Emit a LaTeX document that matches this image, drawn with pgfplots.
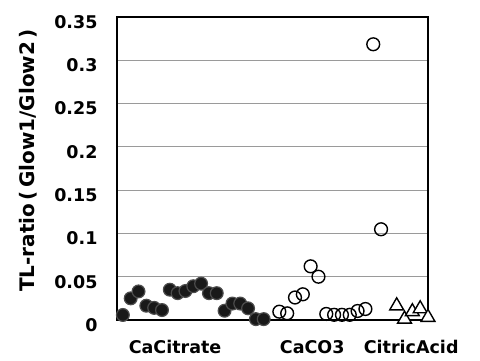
\documentclass[border=0pt]{standalone}
\usepackage{fontspec}
\setmainfont{DejaVu Sans}
\usepackage{pgfplots}
\pgfplotsset{compat=1.18}
\definecolor{gridgray}{HTML}{9A9A9A}
\begin{document}
\begin{tikzpicture}
\begin{axis}[
  at={(0,0)}, anchor=south west,
  scale only axis,
  width=311bp, height=303bp,
  xmin=0.25, xmax=40,
  ymin=0, ymax=0.35,
  ytick={0,0.05,0.1,0.15,0.2,0.25,0.3,0.35},
  yticklabels={0,0.05,0.1,0.15,0.2,0.25,0.3,0.35},
  xtick={7.67,25.2,37.85},
  xticklabels={CaCitrate,CaCO3,CitricAcid},
  major tick length=0pt,
  ymajorgrids,
  grid style={gridgray, line width=1.2bp},
  axis line style={black, line width=2.2bp},
  tick label style={font=\fontsize{17.5bp}{20bp}\selectfont\bfseries},
  yticklabel style={xshift=-16bp, yshift=-5bp},
  xticklabel style={yshift=-17bp},
  ylabel={TL-ratio\,(\,Glow1/Glow2\,)},
  ylabel style={font=\fontsize{20bp}{22bp}\selectfont\bfseries, yshift=10bp, xshift=8bp},
  clip=false,
]
\addplot[only marks, mark=*, mark size=6.4bp,
  mark options={fill=black!90, draw=black!70, line width=1.2bp}]
  coordinates {
  (1,0.0058) (2,0.025) (3,0.033) (4,0.0165) (5,0.014) (6,0.0115)
  (7,0.035) (8,0.031) (9,0.0335) (10,0.039) (11,0.042) (12,0.031)
  (13,0.031) (14,0.0107) (15,0.019) (16,0.019) (17,0.0135) (18,0.001) (19,0.001)
  };
\addplot[only marks, mark=o, mark size=6.4bp,
  mark options={fill=white, draw=black, line width=1.4bp}]
  coordinates {
  (21,0.0096) (22,0.0077) (23,0.026) (24,0.0297) (25,0.062) (26,0.05)
  (27,0.007) (28,0.006) (29,0.006) (30,0.006) (31,0.0104) (32,0.0127)
  (33,0.3185) (34,0.1048)
  };
\addplot[only marks, mark=triangle*, mark size=8bp,
  mark options={fill=white, draw=black, line width=1.4bp}]
  coordinates {
  (36,0.0164) (37,0.001) (38,0.0096) (39,0.013) (40,0.003)
  };
\end{axis}
\useasboundingbox (-117bp,-41bp) rectangle (363bp,320bp);
\end{tikzpicture}
\end{document}
